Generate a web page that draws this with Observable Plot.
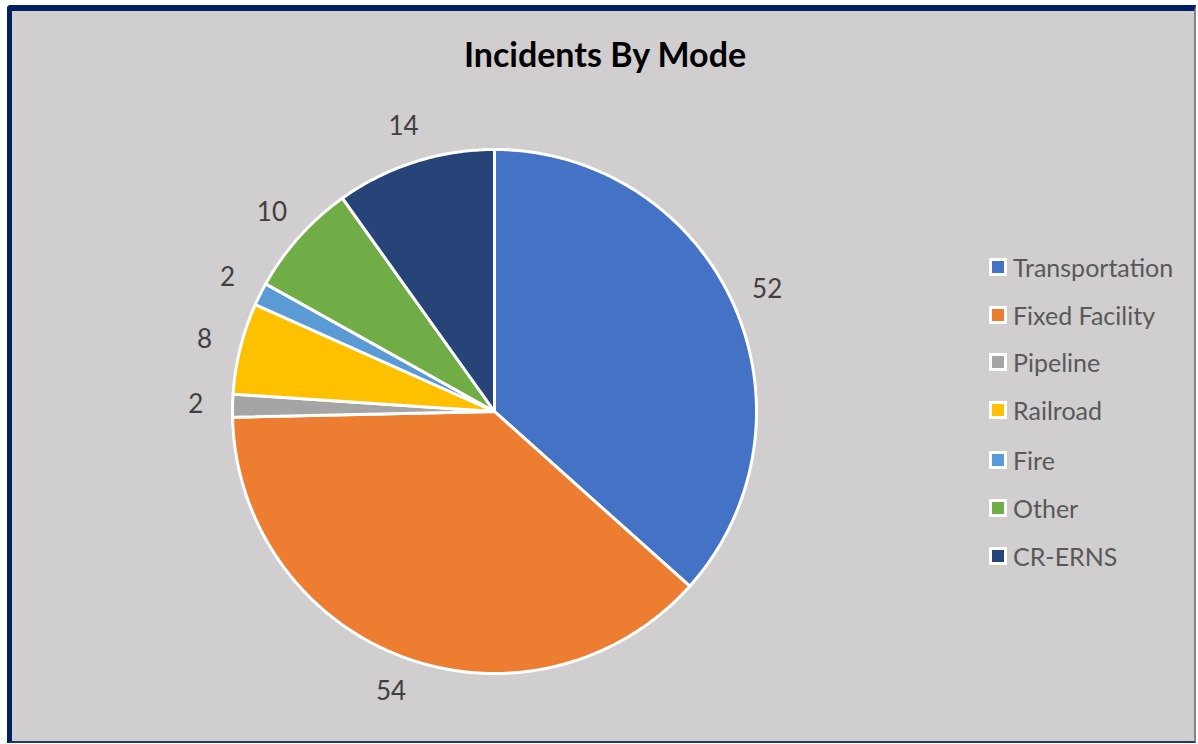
<!DOCTYPE html>
<html>
<head>
<meta charset="utf-8">
<script src="https://cdn.jsdelivr.net/npm/d3@7"></script>
<script src="https://cdn.jsdelivr.net/npm/@observablehq/plot@0.6"></script>
<style>
  html, body { margin: 0; padding: 0; width: 1198px; height: 744px; overflow: hidden; background: #ffffff; }
  #frame {
    position: absolute; left: 7px; top: 5px; width: 1182px; height: 730px;
    background: #d0cece;
    border-left: 5px solid #002060; border-top: 6px solid #002060;
    border-bottom: 2px solid #1f3864; border-right: 2px solid #7f8490;
    border-top-left-radius: 4px;
  }
  #title {
    position: absolute; left: 0; width: 1210px; top: 34px; text-align: center;
    font-family: Lato, sans-serif; font-weight: bold; font-size: 34px; color: #000; line-height: 40px;
  }
  #chart { position: absolute; left: 0; top: 0; }
  #legend { position: absolute; left: 989px; top: 0; font-family: Lato, sans-serif; font-size: 25px; color: #595959; }
  .row { position: absolute; left: 0; height: 30px; display: flex; align-items: center; white-space: nowrap; transform: translateY(-50%); }
  .sw { width: 12px; height: 12px; border: 3px solid #fff; margin-right: 6px; box-sizing: content-box; }
</style>
</head>
<body>
<div id="frame"></div>
<div id="title">Incidents By Mode</div>
<div id="chart"></div>
<div id="legend"></div>
<script>
const categories = ["Transportation", "Fixed Facility", "Pipeline", "Railroad", "Fire", "Other", "CR-ERNS"];
const values = [52, 54, 2, 8, 2, 10, 14];
const colors = ["#4472C4", "#ED7D31", "#A5A5A5", "#FFC000", "#5B9BD5", "#70AD47", "#264478"];

const data = categories.map((name, i) => ({name, value: values[i]}));
const arcs = d3.pie().value(d => d.value).sort(null)(data);

// polygon outline of each slice, in unit-circle coordinates
const poly = [];
for (const a of arcs) {
  const n = Math.max(2, Math.ceil((a.endAngle - a.startAngle) / 0.01));
  poly.push({name: a.data.name, x: 0, y: 0});
  for (let k = 0; k <= n; k++) {
    const t = a.startAngle + (a.endAngle - a.startAngle) * k / n;
    poly.push({name: a.data.name, x: Math.sin(t), y: Math.cos(t)});
  }
  poly.push({name: a.data.name, x: 0, y: 0});
}
const labelR = 1.14;
const labels = arcs.map(a => {
  const m = (a.startAngle + a.endAngle) / 2;
  return {name: a.data.name, value: a.data.value, x: labelR * Math.sin(m), y: labelR * Math.cos(m)};
});

const cx = 494, cy = 411, R = 262;
const plot = Plot.plot({
  width: 1198, height: 744, margin: 0,
  style: {background: "transparent", overflow: "visible"},
  x: {domain: [-1, 1], range: [cx - R, cx + R], axis: null},
  y: {domain: [-1, 1], range: [cy + R, cy - R], axis: null},
  color: {domain: categories, range: colors},
  marks: [
    Plot.line(poly, {x: "x", y: "y", z: "name", fill: "name", stroke: "white", strokeWidth: 3, strokeLinejoin: "round", curve: "linear"}),
    Plot.text(labels, {x: "x", y: "y", text: d => String(d.value), fill: "#404040", fontSize: 26, fontFamily: "Lato, sans-serif", textAnchor: "middle", lineAnchor: "middle"})
  ]
});
document.getElementById("chart").appendChild(plot);

const legend = document.getElementById("legend");
const rowY = [267, 315, 362, 410, 460, 508, 556];
categories.forEach((c, i) => {
  const row = document.createElement("div");
  row.className = "row";
  row.style.top = rowY[i] + "px";
  const sw = document.createElement("div");
  sw.className = "sw";
  sw.style.background = colors[i];
  const tx = document.createElement("span");
  tx.textContent = c;
  row.appendChild(sw); row.appendChild(tx);
  legend.appendChild(row);
});
</script>
</body>
</html>
